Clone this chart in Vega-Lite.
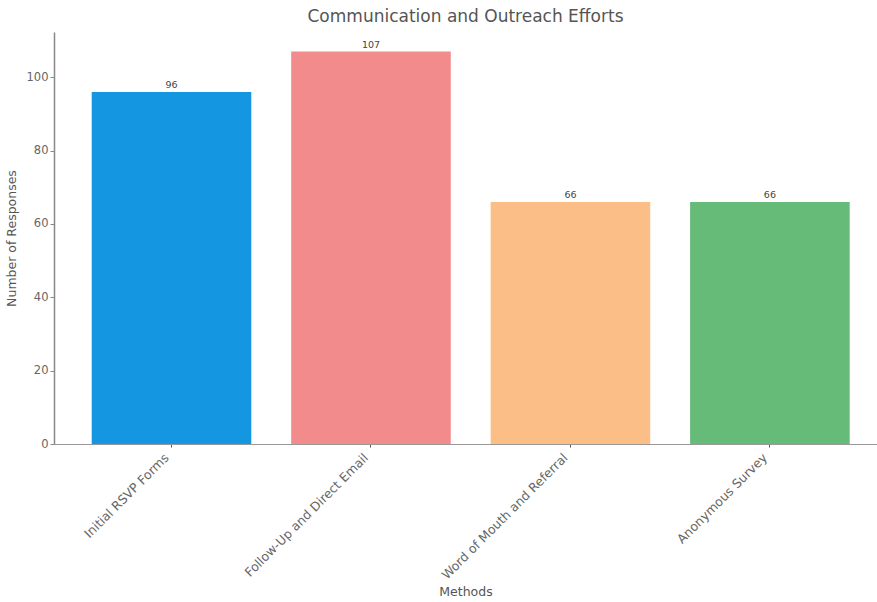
{
  "$schema": "https://vega.github.io/schema/vega-lite/v6.json",
  "autosize": "none",
  "padding": {"left": 54, "top": 32, "right": 0, "bottom": 158},
  "width": 823,
  "height": 412,
  "background": "white",
  "title": {"text": "Communication and Outreach Efforts", "font": "DejaVu Sans", "fontSize": 17, "fontWeight": "normal", "color": "#555555", "offset": 6},
  "data": {"values": [
    {"method": "Initial RSVP Forms", "responses": 96},
    {"method": "Follow-Up and Direct Email", "responses": 107},
    {"method": "Word of Mouth and Referral", "responses": 66},
    {"method": "Anonymous Survey", "responses": 66}
  ]},
  "encoding": {
    "x": {"field": "method", "type": "nominal", "sort": null,
      "scale": {"paddingInner": 0.2, "paddingOuter": 0.163, "align": 0.58},
      "axis": {"title": "Methods", "titleFont": "DejaVu Sans", "titleFontSize": 12.5, "titleFontWeight": "normal", "titleColor": "#555555", "titlePadding": 4,
        "labelAngle": -45, "labelAlign": "right", "labelBaseline": "top", "labelFont": "DejaVu Sans", "labelFontSize": 12.5, "labelColor": "#666666",
        "labelOffset": -9,
        "domainColor": "#999999", "tickColor": "#555555", "tickSize": 3, "labelPadding": 4}},
    "y": {"field": "responses", "type": "quantitative",
      "scale": {"domain": [0, 112.35], "nice": false},
      "axis": {"title": "Number of Responses", "titleFont": "DejaVu Sans", "titleFontSize": 12.5, "titleFontWeight": "normal", "titleColor": "#555555", "titlePadding": 8,
        "values": [0, 20, 40, 60, 80, 100], "grid": false, "labelFont": "DejaVu Sans", "labelFontSize": 11.5, "labelColor": "#666666",
        "domainColor": "#888888", "domainWidth": 1.5, "tickColor": "#888888", "tickSize": 4}}
  },
  "layer": [
    {"mark": {"type": "bar"},
      "encoding": {"color": {"field": "method", "type": "nominal", "sort": null, "legend": null,
        "scale": {"domain": ["Initial RSVP Forms", "Follow-Up and Direct Email", "Word of Mouth and Referral", "Anonymous Survey"],
          "range": ["#1596e0", "#f28b8b", "#fbbe86", "#66bb78"]}}}},
    {"mark": {"type": "text", "dy": -7, "font": "DejaVu Sans", "fontSize": 9.5, "color": "#444444"},
      "encoding": {"text": {"field": "responses", "type": "quantitative"}}}
  ],
  "config": {"view": {"stroke": null}}
}
